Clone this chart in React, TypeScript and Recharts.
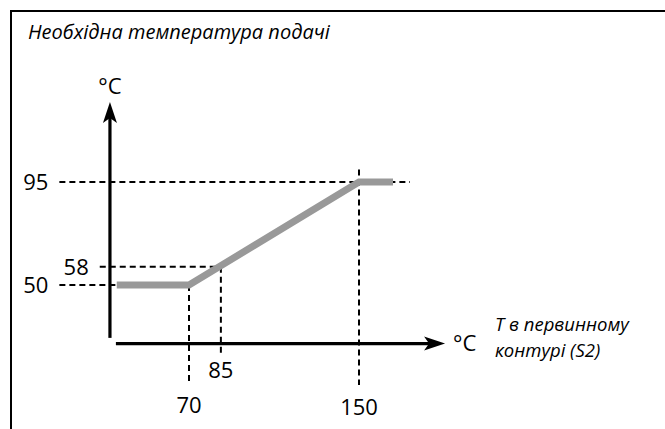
import React from 'react';
import { ComposedChart, Line, XAxis, YAxis, ReferenceLine, Label } from 'recharts';

// Curve: required supply temperature vs primary temperature (S2)
const curveX = [36, 70, 150, 166];
const curveY = [50, 50, 95, 95];

// Marked values on the axes
const xMarks = [70, 85, 150];
const xMarkLabels = ['70', '85', '150'];
const yMarks = [50, 58, 95];
const yMarkLabels = ['50', '58', '95'];

// Extents of the dashed guide lines (data units)
const yGuideStart = [9, 28, 9];
const yGuideEnd = [70, 85, 174];
const xGuideBottom = [7, 19.5, 6.3];
const xGuideTop = [50, 58, 100.5];

// Axis arrows (data units)
const axisX0 = 32.8;
const axisY0 = 24.4;
const yArrowFrom = 26.9;
const yArrowTo = 130;
const xArrowFrom = 35.6;
const xArrowTo = 190.5;

const titleText = 'Необхідна температура подачі';
const xNameLines = ['T в первинному', 'контурі (S2)'];
const unitText = '°C';

const data = curveX.map((x, i) => ({ x, y: curveY[i] }));

const FONT = "'Open Sans', sans-serif";

const arrowShape = (p: any) => {
  const { x1, y1, x2, y2 } = p;
  const dx = x2 - x1;
  const dy = y2 - y1;
  const len = Math.hypot(dx, dy) || 1;
  const ux = dx / len;
  const uy = dy / len;
  const L = 21;
  const W = 7;
  const notch = 5;
  const nx = -uy;
  const ny = ux;
  const bx = x2 - ux * L;
  const by = y2 - uy * L;
  const mx = x2 - ux * (L - notch);
  const my = y2 - uy * (L - notch);
  const pts = [
    [x2, y2],
    [bx + nx * W, by + ny * W],
    [mx, my],
    [bx - nx * W, by - ny * W],
  ]
    .map((q) => q.join(','))
    .join(' ');
  return (
    <g>
      <line x1={x1} y1={y1} x2={mx} y2={my} stroke="#000" strokeWidth={3.2} />
      <polygon points={pts} fill="#000" />
    </g>
  );
};

const labelOffsetsY = [11, 11, 11];
const labelOffsetsX = [14, 8, 14];

export default function App() {
  return (
    <div
      style={{
        position: 'absolute',
        left: 0,
        top: 0,
        width: 665,
        height: 429,
        background: '#fff',
        overflow: 'hidden',
      }}
    >
      <div
        style={{
          position: 'absolute',
          left: 10,
          top: 10,
          width: 655,
          height: 419,
          borderTop: '2px solid #000',
          borderLeft: '2px solid #000',
          boxSizing: 'border-box',
        }}
      />
      <div
        style={{
          position: 'absolute',
          left: 28,
          top: 20,
          fontFamily: FONT,
          fontStyle: 'italic',
          fontSize: 20,
          lineHeight: '24px',
          color: '#000',
          whiteSpace: 'nowrap',
        }}
      >
        {titleText}
      </div>
      {xNameLines.map((l, i) => (
        <div
          key={l}
          style={{
            position: 'absolute',
            left: 495,
            top: 311 + i * 25.5,
            height: 25,
            fontFamily: FONT,
            fontStyle: 'italic',
            fontSize: 18.5,
            lineHeight: '25px',
            color: '#000',
            whiteSpace: 'nowrap',
          }}
        >
          {l}
        </div>
      ))}
      <ComposedChart
        width={665}
        height={429}
        data={data}
        margin={{ top: 79, right: 199.75, bottom: 29.55, left: 40.25 }}
        style={{ position: 'absolute', left: 0, top: 0 }}
      >
        <XAxis type="number" dataKey="x" domain={[0, 200]} hide />
        <YAxis type="number" domain={[0, 140]} hide />
        {yMarks.map((v, i) => (
          <ReferenceLine
            key={'hy' + v}
            segment={[
              { x: yGuideStart[i], y: v },
              { x: yGuideEnd[i], y: v },
            ]}
            stroke="#000"
            strokeWidth={2}
            strokeDasharray="6 4"
          >
            <Label
              value={yMarkLabels[i]}
              position="left"
              offset={labelOffsetsY[i]}
              fill="#000"
              fontSize={22}
              fontFamily={FONT}
            />
          </ReferenceLine>
        ))}
        {xMarks.map((v, i) => (
          <ReferenceLine
            key={'vx' + v}
            segment={[
              { x: v, y: xGuideTop[i] },
              { x: v, y: xGuideBottom[i] },
            ]}
            stroke="#000"
            strokeWidth={2}
            strokeDasharray="6 4"
          >
            <Label
              value={xMarkLabels[i]}
              position="bottom"
              offset={labelOffsetsX[i]}
              fill="#000"
              fontSize={22}
              fontFamily={FONT}
            />
          </ReferenceLine>
        ))}
        <Line
          dataKey="y"
          type="linear"
          stroke="#999999"
          strokeWidth={7}
          strokeLinecap="butt"
          strokeLinejoin="miter"
          dot={false}
          activeDot={false}
          isAnimationActive={false}
        />
        <ReferenceLine
          segment={[
            { x: axisX0, y: yArrowFrom },
            { x: axisX0, y: yArrowTo },
          ]}
          shape={arrowShape}
        >
          <Label value={unitText} position="top" offset={8} fill="#000" fontSize={22} fontFamily={FONT} />
        </ReferenceLine>
        <ReferenceLine
          segment={[
            { x: xArrowFrom, y: axisY0 },
            { x: xArrowTo, y: axisY0 },
          ]}
          shape={arrowShape}
        >
          <Label value={unitText} position="right" offset={8} fill="#000" fontSize={22} fontFamily={FONT} />
        </ReferenceLine>
      </ComposedChart>
    </div>
  );
}
